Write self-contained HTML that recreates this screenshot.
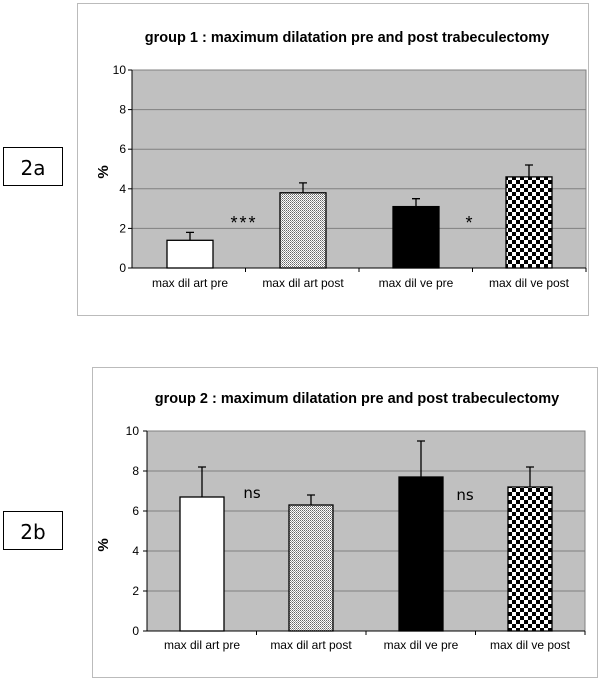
<!DOCTYPE html><html><head><style>body{margin:0;background:#fff}svg{display:block}</style></head><body>
<svg width="600" height="682" xmlns="http://www.w3.org/2000/svg" font-family="Liberation Sans, sans-serif">
<defs>
<pattern id="dot" width="2" height="2" patternUnits="userSpaceOnUse"><rect width="2" height="2" fill="#fff"/><rect width="1" height="1" fill="#666"/><rect x="1" y="1" width="1" height="1" fill="#999"/></pattern>
<pattern id="chk" width="8" height="8" patternUnits="userSpaceOnUse" x="0" y="0"><rect width="8" height="8" fill="#fff"/><rect width="4" height="4" fill="#000"/><rect x="4" y="4" width="4" height="4" fill="#000"/></pattern>
</defs>
<rect x="3.5" y="147.5" width="59" height="38" fill="#fff" stroke="#000"/>
<text x="33" y="175" font-size="20" text-anchor="middle" font-family="DejaVu Sans, sans-serif">2a</text>
<rect x="3.5" y="511.5" width="59" height="38" fill="#fff" stroke="#000"/>
<text x="33" y="539" font-size="20" text-anchor="middle" font-family="DejaVu Sans, sans-serif">2b</text>

<!-- chart 1 -->
<rect x="77.5" y="3.5" width="511" height="312" fill="#fff" stroke="#bbb"/>
<text x="347" y="42" font-size="14.5" font-weight="bold" text-anchor="middle">group 1 : maximum dilatation pre and post trabeculectomy</text>
<rect x="132" y="70" width="454" height="198" fill="#c0c0c0" stroke="#808080"/>
<g stroke="#808080"><line x1="132" x2="586" y1="109.6" y2="109.6"/><line x1="132" x2="586" y1="149.2" y2="149.2"/><line x1="132" x2="586" y1="188.8" y2="188.8"/><line x1="132" x2="586" y1="228.4" y2="228.4"/></g>
<g stroke="#000" stroke-width="1"><line x1="132" x2="586" y1="268" y2="268"/><line x1="132" x2="132" y1="70" y2="268"/>
<line x1="128" x2="132" y1="70" y2="70"/><line x1="128" x2="132" y1="109.6" y2="109.6"/><line x1="128" x2="132" y1="149.2" y2="149.2"/><line x1="128" x2="132" y1="188.8" y2="188.8"/><line x1="128" x2="132" y1="228.4" y2="228.4"/><line x1="128" x2="132" y1="268" y2="268"/>
<line x1="245.5" x2="245.5" y1="268" y2="272"/><line x1="359" x2="359" y1="268" y2="272"/><line x1="472.5" x2="472.5" y1="268" y2="272"/><line x1="586" x2="586" y1="268" y2="272"/></g>
<g font-size="12" text-anchor="end"><text x="126" y="74">10</text><text x="126" y="113.6">8</text><text x="126" y="153.2">6</text><text x="126" y="192.8">4</text><text x="126" y="232.4">2</text><text x="126" y="272">0</text></g>
<text transform="translate(108,172) rotate(-90)" font-size="15" font-weight="bold" text-anchor="middle">%</text>
<g stroke="#000" stroke-width="1.3">
<rect x="167" y="240.3" width="46" height="27.7" fill="#fff"/>
<rect x="280" y="192.8" width="46" height="75.2" fill="url(#dot)"/>
<rect x="393" y="206.6" width="46" height="61.4" fill="#000"/>
<rect x="506" y="176.9" width="46" height="91.1" fill="url(#chk)"/>
<path d="M190 240V232.4M186 232.4H194M303 192.8V182.9M299 182.9H307M416 206.6V198.7M412 198.7H420M529 176.9V165M525 165H533" fill="none"/>
</g>
<g font-size="12" text-anchor="middle"><text x="190" y="287">max dil art pre</text><text x="303" y="287">max dil art post</text><text x="416" y="287">max dil ve pre</text><text x="529" y="287">max dil ve post</text></g>
<text x="244" y="229" font-size="18" letter-spacing="2" text-anchor="middle">***</text>
<text x="469" y="229" font-size="18" text-anchor="middle">*</text>

<!-- chart 2 -->
<rect x="92.5" y="367.5" width="505" height="310" fill="#fff" stroke="#bbb"/>
<text x="357" y="403" font-size="14.5" font-weight="bold" text-anchor="middle">group 2 : maximum dilatation pre and post trabeculectomy</text>
<rect x="147" y="431" width="438" height="200" fill="#c0c0c0" stroke="#808080"/>
<g stroke="#808080"><line x1="147" x2="585" y1="471" y2="471"/><line x1="147" x2="585" y1="511" y2="511"/><line x1="147" x2="585" y1="551" y2="551"/><line x1="147" x2="585" y1="591" y2="591"/></g>
<g stroke="#000"><line x1="147" x2="585" y1="631" y2="631"/><line x1="147" x2="147" y1="431" y2="631"/>
<line x1="143" x2="147" y1="431" y2="431"/><line x1="143" x2="147" y1="471" y2="471"/><line x1="143" x2="147" y1="511" y2="511"/><line x1="143" x2="147" y1="551" y2="551"/><line x1="143" x2="147" y1="591" y2="591"/><line x1="143" x2="147" y1="631" y2="631"/>
<line x1="256.5" x2="256.5" y1="631" y2="635"/><line x1="366" x2="366" y1="631" y2="635"/><line x1="475.5" x2="475.5" y1="631" y2="635"/><line x1="585" x2="585" y1="631" y2="635"/></g>
<g font-size="12" text-anchor="end"><text x="139" y="435">10</text><text x="139" y="475">8</text><text x="139" y="515">6</text><text x="139" y="555">4</text><text x="139" y="595">2</text><text x="139" y="635">0</text></g>
<text transform="translate(108,545) rotate(-90)" font-size="15" font-weight="bold" text-anchor="middle">%</text>
<g stroke="#000" stroke-width="1.3">
<rect x="180" y="497" width="44" height="134" fill="#fff"/>
<rect x="289" y="505" width="44" height="126" fill="url(#dot)"/>
<rect x="399" y="477" width="44" height="154" fill="#000"/>
<rect x="508" y="487" width="44" height="144" fill="url(#chk)"/>
<path d="M202 497V467M198 467H206M311 505V495M307 495H315M421 477V441M417 441H425M530 487V467M526 467H534" fill="none"/>
</g>
<g font-size="12" text-anchor="middle"><text x="202" y="649">max dil art pre</text><text x="311" y="649">max dil art post</text><text x="421" y="649">max dil ve pre</text><text x="530" y="649">max dil ve post</text></g>
<text x="252" y="498" font-size="15" text-anchor="middle" font-family="DejaVu Sans, sans-serif">ns</text>
<text x="465" y="500" font-size="15" text-anchor="middle" font-family="DejaVu Sans, sans-serif">ns</text>
</svg></body></html>
